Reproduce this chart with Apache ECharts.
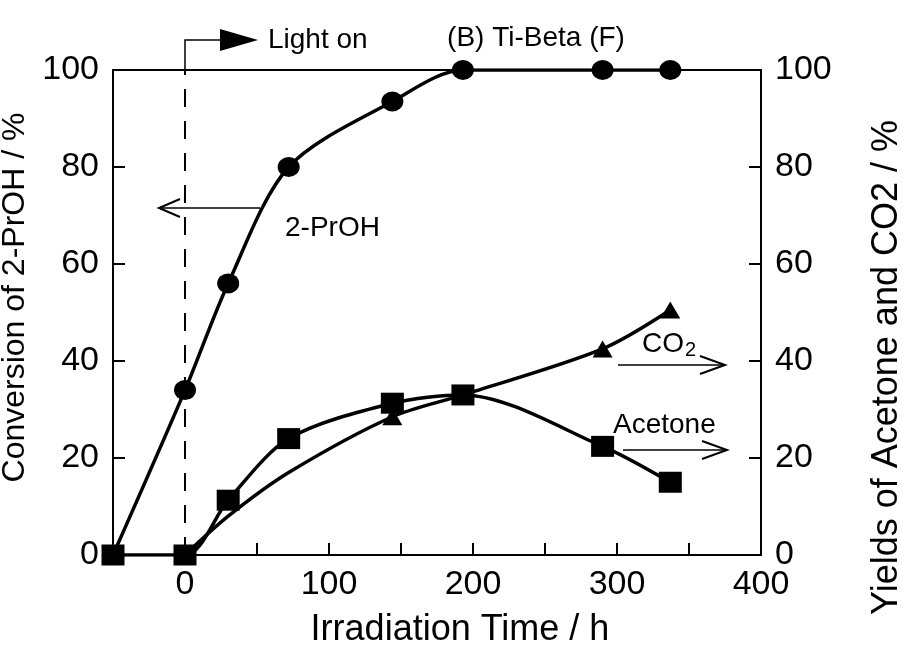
<!DOCTYPE html>
<html><head><meta charset="utf-8">
<script src="https://cdn.jsdelivr.net/npm/echarts@6/dist/echarts.min.js"></script>
<style>html,body{margin:0;background:#fff}#c{width:903px;height:658px}</style>
</head><body><div id="c"></div>
<script>
// Photocatalytic run over Ti-Beta (F): conversion and product yields vs. time
const propanolTime = [-50, 0, 30, 72, 144, 193, 290, 337];
const propanolConv = [0, 34, 56, 80, 93.5, 100, 100, 100];
const acetoneTime = [-50, 0, 30, 72, 144, 193, 290, 337];
const acetoneYield = [0, 0, 11.3, 24, 31.3, 33, 22.4, 15];
const co2Time = [0, 30, 72, 144, 193, 290, 337];
const co2Yield = [0, 8, 17, 28.5, 33, 42.5, 50.5];
const co2Symbols = ['triangle', 'none', 'none', 'triangle', 'triangle', 'triangle', 'triangle'];
const xTickLabels = ['0', '100', '200', '300', '400'];
const yTickLabels = ['0', '20', '40', '60', '80', '100'];
const lightOnTime = 0;

const FONT = 'Liberation Sans, Arial, sans-serif';
const chart = echarts.init(document.getElementById('c'), null, { renderer: 'canvas' });

const pairs = (xs, ys) => xs.map((x, i) => [x, ys[i]]);
const blackLine = { color: '#000', width: 2 };

chart.setOption({
  backgroundColor: '#fff',
  animation: false,
  grid: {
    left: 113, right: 142, top: 70, bottom: 103,
    containLabel: false, outerBoundsMode: 'none',
    show: true, borderColor: '#000', borderWidth: 2
  },
  xAxis: {
    type: 'value', min: -50, max: 400, interval: 50,
    name: 'Irradiation Time / h', nameLocation: 'middle', nameGap: 57,
    nameTextStyle: { fontFamily: FONT, fontSize: 36, color: '#000', padding: [0, 0, 0, 46] },
    axisLine: { onZero: false, lineStyle: blackLine },
    axisTick: { inside: true, length: 12, lineStyle: blackLine },
    axisLabel: {
      fontFamily: FONT, fontSize: 34, color: '#000', margin: 13,
      formatter: v => xTickLabels.includes(String(v)) ? String(v) : ''
    },
    splitLine: { show: false }
  },
  yAxis: [{
    type: 'value', min: 0, max: 100, interval: 20, position: 'left',
    name: 'Conversion of 2-PrOH / %', nameLocation: 'middle', nameGap: 67, nameRotate: 90,
    nameTextStyle: { fontFamily: FONT, fontSize: 32, color: '#000', padding: [0, 0, 0, 30] },
    axisLine: { show: true, onZero: false, lineStyle: blackLine },
    axisTick: { show: true, inside: true, length: 12, lineStyle: blackLine },
    axisLabel: { fontFamily: FONT, fontSize: 34, color: '#000', margin: 14,
      formatter: v => yTickLabels.includes(String(v)) ? String(v) : '' },
    splitLine: { show: false }
  }, {
    type: 'value', min: 0, max: 100, interval: 20, position: 'right',
    name: 'Yields of Acetone and CO2 / %', nameLocation: 'middle', nameGap: 108, nameRotate: 90,
    nameTextStyle: { fontFamily: FONT, fontSize: 36, color: '#000', padding: [0, 110, 0, 0] },
    axisLine: { show: true, onZero: false, lineStyle: blackLine },
    axisTick: { show: true, inside: true, length: 12, lineStyle: blackLine },
    axisLabel: { fontFamily: FONT, fontSize: 34, color: '#000', margin: 14,
      formatter: v => yTickLabels.includes(String(v)) ? String(v) : '' },
    splitLine: { show: false }
  }],
  series: [{
    name: '2-PrOH', type: 'line', yAxisIndex: 0, smooth: 0.3, z: 3,
    data: pairs(propanolTime, propanolConv),
    symbol: 'circle', symbolSize: [22, 20],
    lineStyle: { color: '#000', width: 3.5 }, itemStyle: { color: '#000' }
  }, {
    name: 'CO2', type: 'line', yAxisIndex: 1, smooth: 0.3, z: 4,
    data: co2Time.map((x, i) => ({ value: [x, co2Yield[i]], symbol: co2Symbols[i] })),
    symbolSize: [20, 17],
    lineStyle: { color: '#000', width: 3.5 }, itemStyle: { color: '#000' }
  }, {
    name: 'Acetone', type: 'line', yAxisIndex: 1, smooth: 0.3, z: 5,
    data: pairs(acetoneTime, acetoneYield),
    symbol: 'rect', symbolSize: [23, 21],
    lineStyle: { color: '#000', width: 3.5 }, itemStyle: { color: '#000' }
  }]
});

// Annotations: "Light on" marker, title and series pointers
const px = (x, y) => chart.convertToPixel({ xAxisIndex: 0, yAxisIndex: 0 }, [x, y]);
const lightTop = px(lightOnTime, 100);
const lightBottom = px(lightOnTime, 0);
const lineY = 40;
const thin = { stroke: '#000', lineWidth: 1.5, fill: null };
const head = { stroke: '#000', lineWidth: 2, fill: null };
const txt = (x, y, text, size, align) => ({
  type: 'text', x, y, z: 10,
  style: { text, fontFamily: FONT, fontSize: size, fill: '#000', align: align || 'left', verticalAlign: 'middle' }
});
chart.setOption({
  graphic: [
    { type: 'line', shape: { x1: lightTop[0], y1: lightBottom[1], x2: lightTop[0], y2: lightTop[1] },
      style: { stroke: '#000', lineWidth: 2, lineDash: [18, 14] } },
    { type: 'polyline', shape: { points: [[lightTop[0], lightTop[1]], [lightTop[0], lineY], [224, lineY]] }, style: thin },
    { type: 'polygon', shape: { points: [[220, lineY - 11], [258, lineY], [220, lineY + 11]] }, style: { fill: '#000' } },
    txt(268, lineY, 'Light on', 28),
    txt(536, 38, '(B) Ti-Beta (F)', 28, 'center'),
    // 2-PrOH -> left axis
    { type: 'polyline', shape: { points: [[260, 208], [160, 208]] }, style: thin },
    { type: 'polyline', shape: { points: [[180, 199], [159, 208], [180, 217]] }, style: head },
    txt(285, 228, '2-PrOH', 28),
    // CO2 -> right axis
    { type: 'text', x: 642, y: 344, z: 10, style: { text: '{a|CO}{b|2}', fontFamily: FONT, fill: '#000', verticalAlign: 'middle',
      rich: { a: { fontFamily: FONT, fontSize: 28, fill: '#000' }, b: { fontFamily: FONT, fontSize: 20, fill: '#000', padding: [12, 0, 0, 1] } } } },
    { type: 'polyline', shape: { points: [[618, 365], [724, 365]] }, style: thin },
    { type: 'polyline', shape: { points: [[700, 356], [725, 365], [700, 374]] }, style: head },
    // Acetone -> right axis
    txt(613, 425, 'Acetone', 28),
    { type: 'polyline', shape: { points: [[623, 450], [726, 450]] }, style: thin },
    { type: 'polyline', shape: { points: [[702, 441], [727, 450], [702, 459]] }, style: head }
  ]
});
</script>
</body></html>
